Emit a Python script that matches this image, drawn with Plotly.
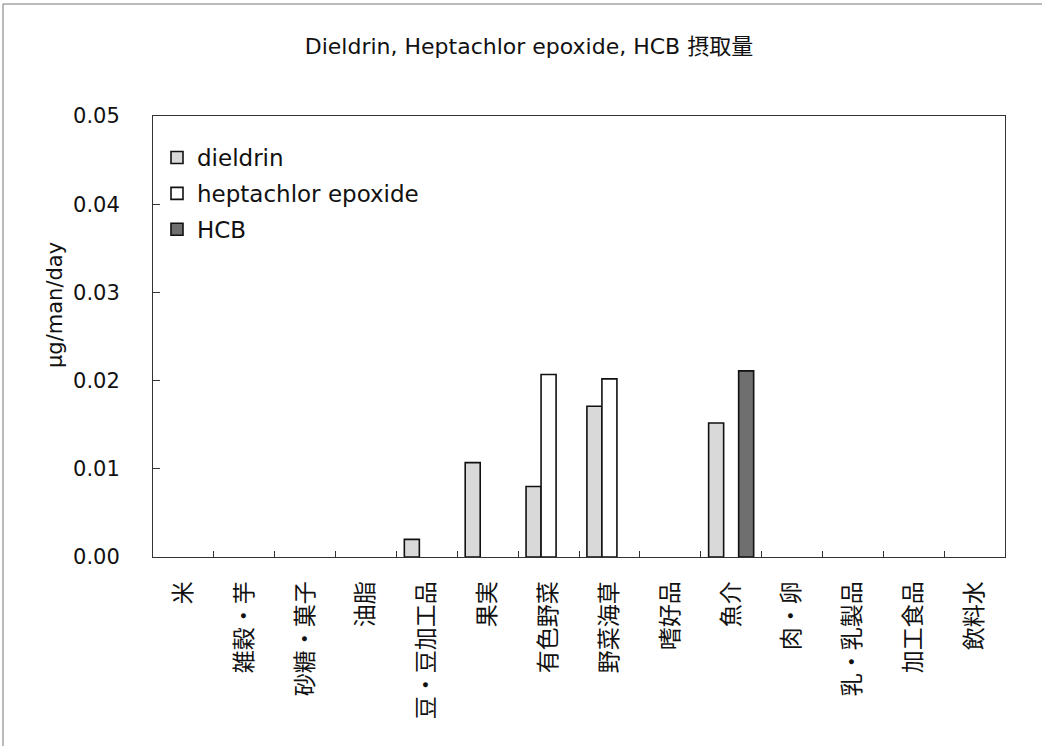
import plotly.graph_objects as go

categories = ["米", "雑穀・芋", "砂糖・菓子", "油脂", "豆・豆加工品", "果実", "有色野菜",
              "野菜海草", "嗜好品", "魚介", "肉・卵", "乳・乳製品", "加工食品", "飲料水"]
# None = no bar drawn (zero intake)
dieldrin = [None, None, None, None, 0.0020, 0.0107, 0.0080, 0.0171, None, 0.0152, None, None, None, None]
heptachlor_epoxide = [None, None, None, None, None, None, 0.0207, 0.0202, None, None, None, None, None, None]
hcb = [None, None, None, None, None, None, None, None, None, 0.0211, None, None, None, None]
series_names = ["dieldrin", "heptachlor epoxide", "HCB"]
title_text = "Dieldrin, Heptachlor epoxide, HCB 摂取量"
y_title = "μg/man/day"
y_ticks = [0.00, 0.01, 0.02, 0.03, 0.04, 0.05]

LATIN = "DejaVu Sans, Noto Sans CJK JP, sans-serif"
CJK = "Noto Sans CJK JP, DejaVu Sans, sans-serif"

fills = ["#d9d9d9", "#ffffff", "#6f6f6f"]
values = [dieldrin, heptachlor_epoxide, hcb]

fig = go.Figure()
for name, vals, col in zip(series_names, values, fills):
    fig.add_trace(go.Bar(
        x=categories, y=vals, name=name, legendgroup=name,
        marker=dict(color=col, line=dict(color="#111111", width=1.6)),
    ))

W, H = 1042, 746
L, R, T, B = 153, 1005, 116, 557
pw, ph = R - L, B - T

fig.update_layout(
    width=W, height=H,
    margin=dict(l=L, r=W - R, t=T, b=H - B),
    paper_bgcolor="white", plot_bgcolor="white",
    barmode="group", bargap=0.26, bargroupgap=0.0,
    title=dict(text=title_text, x=(529) / W, xanchor="center",
               y=1 - 46 / H, yanchor="middle",
               font=dict(family=LATIN, size=22, color="#111111")),
    legend=dict(x=(157 - L) / pw, xanchor="left", y=(B - 136) / ph, yanchor="top",
                traceorder="grouped", tracegroupgap=3,
                font=dict(family=LATIN, size=23, color="#111111"),
                bgcolor="rgba(0,0,0,0)"),
    showlegend=True,
)

fig.update_xaxes(
    type="category", showline=True, mirror=True, linecolor="#333333", linewidth=1,
    ticks="inside", tickson="boundaries", ticklen=6, tickcolor="#333333",
    tickangle=-90, ticklabelstandoff=14,
    tickfont=dict(family=CJK, size=23, color="#111111"),
    showgrid=False, zeroline=False,
)
fig.update_yaxes(
    range=[0, 0.05], tickvals=y_ticks, tickformat=".2f",
    showline=True, mirror=True, linecolor="#333333", linewidth=1,
    ticks="inside", ticklen=7, tickcolor="#333333", ticklabelstandoff=28,
    tickfont=dict(family=LATIN, size=21, color="#111111"),
    showgrid=False, zeroline=False,
)

fig.add_annotation(
    text=y_title, textangle=-90, xref="paper", yref="paper",
    x=(55 - L) / pw, y=(B - 305) / ph, xanchor="center", yanchor="middle",
    showarrow=False, font=dict(family=LATIN, size=21, color="#111111"),
)

# outer chart border (scanned frame: left and top edges)
fig.add_shape(type="line", xref="paper", yref="paper",
              x0=(3 - L) / pw, x1=(3 - L) / pw, y0=(B - 746) / ph, y1=(B - 4) / ph,
              line=dict(color="#777777", width=1))
fig.add_shape(type="line", xref="paper", yref="paper",
              x0=(3 - L) / pw, x1=(1042 - L) / pw, y0=(B - 4) / ph, y1=(B - 4) / ph,
              line=dict(color="#777777", width=1))

fig.write_html("out.html")
